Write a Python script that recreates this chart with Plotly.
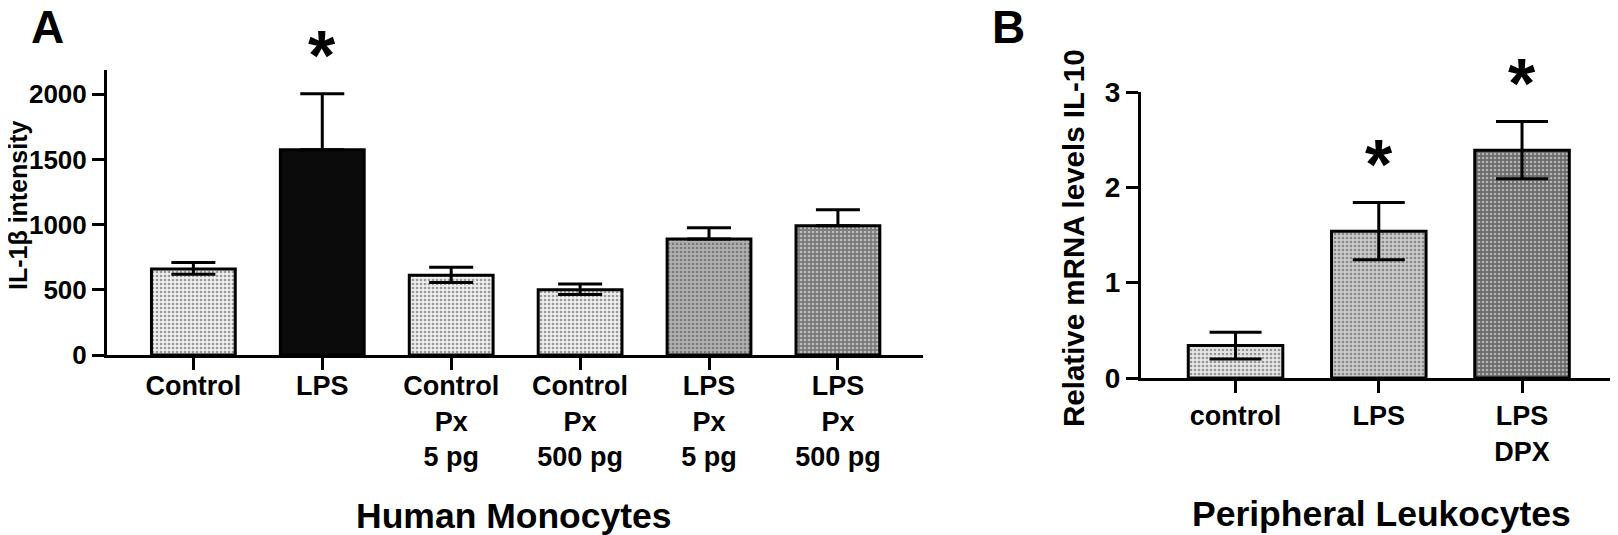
import plotly.graph_objects as go

# the page adds an 8px body margin, so the figure is 8px smaller than the window
OFF = 8
W, H = 1618 - OFF, 535 - OFF

# Panel A - human monocytes, IL-1b
mono_groups = ["Control", "LPS", "Control<br>Px<br>5 pg", "Control<br>Px<br>500 pg",
               "LPS<br>Px<br>5 pg", "LPS<br>Px<br>500 pg"]
mono_il1b = [660, 1575, 612, 500, 890, 992]
mono_err_up = [50, 430, 62, 45, 87, 123]
mono_err_down = [40, 0, 55, 35, 0, 0]
mono_sig = ["", "*", "", "", "", ""]

# Panel B - peripheral leukocytes, IL-10 mRNA
leuk_groups = ["control", "LPS", "LPS<br>DPX"]
leuk_il10 = [0.34, 1.54, 2.39]
leuk_err = [0.14, 0.30, 0.30]
leuk_sig = ["", "*", "*"]

FONT = "Liberation Sans"


def px_x(p):
    return (p - OFF) / W


def px_y(p):
    return 1 - (p - OFF) / H


def bold(size):
    return dict(family=FONT, size=size, color="black", weight="bold")


fig = go.Figure()

fig.add_trace(go.Bar(
    x=mono_groups, y=mono_il1b, width=0.65,
    marker=dict(
        color=["#eeeeee", "#0b0b0b", "#eeeeee", "#eeeeee", "#b0b0b0", "#7a7a7a"],
        line=dict(color="black", width=3),
        pattern=dict(shape=[".", "", ".", ".", ".", "."], fillmode="overlay",
                     fgcolor=["#a0a0a0", "#0b0b0b", "#a0a0a0", "#a0a0a0", "#555555", "#2a2a2a"],
                     size=4, solidity=0.35),
    ),
    error_y=dict(type="data", array=mono_err_up, arrayminus=mono_err_down,
                 color="black", thickness=3, width=22),
    xaxis="x", yaxis="y", showlegend=False,
))

fig.add_trace(go.Bar(
    x=leuk_groups, y=leuk_il10, width=0.66,
    marker=dict(
        color=["#e6e6e6", "#cacaca", "#6a6a6a"],
        line=dict(color="black", width=3),
        pattern=dict(shape=".", fillmode="overlay", fgcolor=["#8c8c8c", "#9a9a9a", "#363636"],
                     size=4, solidity=0.35),
    ),
    error_y=dict(type="data", array=leuk_err, color="black", thickness=3, width=26),
    xaxis="x2", yaxis="y2", showlegend=False,
))

annotations = []
# significance stars, ~45px above the top of the error bar
for g, v, e, s in zip(mono_groups, mono_il1b, mono_err_up, mono_sig):
    if s:
        annotations.append(dict(x=g, y=v + e, xref="x", yref="y", text=s, showarrow=False,
                                yanchor="middle", yshift=38, font=bold(70)))
for g, v, e, s in zip(leuk_groups, leuk_il10, leuk_err, leuk_sig):
    if s:
        annotations.append(dict(x=g, y=v + e, xref="x2", yref="y2", text=s, showarrow=False,
                                yanchor="middle", yshift=38, font=bold(70)))

text_annots = [
    ("A", 29, 27, 0, 46, "left"),
    ("B", 990, 27, 0, 46, "left"),
    ("IL-1β intensity", 18, 205, -90, 25, "center"),
    ("Relative mRNA levels IL-10", 1073, 238, -90, 29.5, "center"),
    ("Human Monocytes", 514, 516, 0, 35.5, "center"),
    ("Peripheral Leukocytes", 1381, 514, 0, 35.5, "center"),
]
for txt, x, y, ang, sz, xa in text_annots:
    annotations.append(dict(
        x=px_x(x), y=px_y(y), xref="paper", yref="paper", text=txt, showarrow=False,
        textangle=ang, xanchor=xa, yanchor="middle", font=bold(sz),
    ))

axis_common = dict(showline=True, linecolor="black", linewidth=3, ticks="outside",
                   ticklen=12, tickwidth=3, tickcolor="black", showgrid=False,
                   zeroline=False, automargin=False)

fig.update_layout(
    template="none",
    width=W, height=H,
    margin=dict(l=0, r=0, t=0, b=0, autoexpand=False),
    paper_bgcolor="white", plot_bgcolor="white",
    font=dict(family=FONT, color="black"),
    xaxis=dict(domain=[px_x(107), px_x(923)], anchor="y", range=[-0.67, 5.66],
               tickfont=bold(27), ticklabelstandoff=-7, **axis_common),
    yaxis=dict(domain=[px_y(355), px_y(70)], anchor="x", range=[0, 2187],
               tickvals=[0, 500, 1000, 1500, 2000], tickfont=bold(26), **axis_common),
    xaxis2=dict(domain=[px_x(1141), 1.0], anchor="y2", range=[-0.66, 2.67],
                tickfont=bold(27), **axis_common),
    yaxis2=dict(domain=[px_y(378), px_y(92)], anchor="x2", range=[0, 3],
                tickvals=[0, 1, 2, 3], tickfont=bold(28), **axis_common),
    annotations=annotations,
)

fig.write_html("out.html")
